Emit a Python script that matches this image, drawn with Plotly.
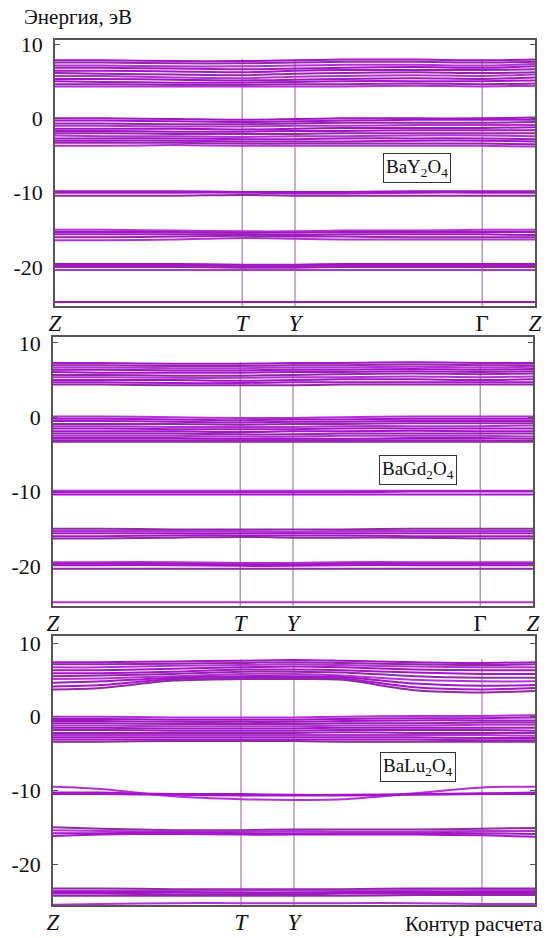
import plotly.graph_objects as go

W, H = 556, 938

# ---- k-path (fraction of path) and symmetry points ----
KX = [0.0, 0.1, 0.25, 0.39, 0.5, 0.6, 0.75, 0.89, 1.0]
SYM_X = [0.0, 0.39, 0.5, 0.89, 1.0]
SYM_LABELS_FULL = ['<i>Z</i>', '<i>T</i>', '<i>Y</i>', 'Γ', '<i>Z</i>']
SYM_LABELS_LAST = ['<i>Z</i>', '<i>T</i>', '<i>Y</i>']
Y_TICKS = [10, 0, -10, -20]
Y_TICK_TEXT = ['10', '0', '-10', '-20']
PANEL_NAMES = ['BaY<sub>2</sub>O<sub>4</sub>', 'BaGd<sub>2</sub>O<sub>4</sub>', 'BaLu<sub>2</sub>O<sub>4</sub>']
VLINE_TOP = [8.0, 7.4, 7.8]

# ---- BaY2O4 bands (eV) ----
P1_CB = [
    [7.8, 7.8, 7.7, 7.7, 7.8, 7.9, 7.9, 7.8, 7.9],
    [7.5, 7.5, 7.4, 7.4, 7.5, 7.6, 7.6, 7.5, 7.6],
    [7.1, 7.1, 7.0, 7.0, 7.1, 7.2, 7.2, 7.1, 7.3],
    [6.8, 6.8, 6.7, 6.6, 6.7, 6.8, 6.9, 6.8, 7.0],
    [6.4, 6.4, 6.3, 6.2, 6.4, 6.5, 6.5, 6.5, 6.6],
    [6.1, 6.0, 5.9, 5.8, 6.0, 6.1, 6.2, 6.1, 6.2],
    [5.7, 5.7, 5.5, 5.4, 5.6, 5.7, 5.8, 5.7, 5.9],
    [5.3, 5.3, 5.2, 5.1, 5.2, 5.3, 5.4, 5.3, 5.5],
    [5.0, 4.9, 4.8, 4.8, 4.9, 5.0, 5.0, 5.0, 5.1],
    [4.6, 4.6, 4.5, 4.5, 4.6, 4.6, 4.7, 4.6, 4.7],
    [4.3, 4.3, 4.3, 4.3, 4.3, 4.3, 4.4, 4.3, 4.4],
]
P1_VB = [
    [0.0, 0.0, -0.1, -0.2, -0.1, 0.0, 0.0, 0.0, 0.1],
    [-0.3, -0.3, -0.4, -0.5, -0.4, -0.3, -0.2, -0.2, -0.2],
    [-0.7, -0.7, -0.8, -0.8, -0.7, -0.6, -0.6, -0.6, -0.5],
    [-1.0, -1.0, -1.1, -1.1, -1.0, -1.0, -0.9, -0.9, -0.9],
    [-1.4, -1.4, -1.4, -1.5, -1.4, -1.3, -1.3, -1.3, -1.2],
    [-1.7, -1.7, -1.8, -1.8, -1.7, -1.7, -1.6, -1.6, -1.6],
    [-2.0, -2.0, -2.1, -2.1, -2.1, -2.0, -2.0, -2.0, -2.0],
    [-2.3, -2.4, -2.4, -2.5, -2.4, -2.4, -2.3, -2.3, -2.4],
    [-2.7, -2.7, -2.7, -2.8, -2.8, -2.7, -2.7, -2.7, -2.8],
    [-3.0, -3.0, -3.0, -3.1, -3.1, -3.1, -3.0, -3.0, -3.1],
    [-3.3, -3.3, -3.3, -3.4, -3.4, -3.4, -3.4, -3.4, -3.5],
    [-3.7, -3.7, -3.6, -3.7, -3.7, -3.7, -3.7, -3.7, -3.8],
]
P1_DEEP = [
    [-9.8, -9.8, -9.8, -9.9, -9.9, -9.9, -9.8, -9.8, -9.8],
    [-10.0, -10.0, -10.0, -10.0, -10.1, -10.1, -10.0, -10.0, -10.0],
    [-10.4, -10.4, -10.4, -10.3, -10.4, -10.4, -10.4, -10.4, -10.4],
    [-15.0, -15.0, -15.1, -15.2, -15.2, -15.1, -15.1, -15.0, -15.0],
    [-15.3, -15.3, -15.3, -15.4, -15.4, -15.3, -15.3, -15.3, -15.3],
    [-15.6, -15.6, -15.6, -15.6, -15.7, -15.6, -15.6, -15.6, -15.7],
    [-16.0, -16.0, -15.9, -15.8, -15.9, -15.9, -16.0, -16.0, -16.0],
    [-16.4, -16.4, -16.3, -16.1, -16.2, -16.3, -16.3, -16.3, -16.3],
    [-19.6, -19.6, -19.6, -19.7, -19.7, -19.6, -19.6, -19.6, -19.6],
    [-19.8, -19.8, -19.8, -19.9, -19.9, -19.8, -19.8, -19.8, -19.8],
    [-20.0, -20.0, -20.0, -20.1, -20.1, -20.0, -20.0, -20.0, -20.0],
    [-20.4, -20.4, -20.4, -20.4, -20.4, -20.4, -20.4, -20.4, -20.4],
    [-24.7, -24.7, -24.7, -24.7, -24.7, -24.7, -24.7, -24.7, -24.7],
]

# ---- BaGd2O4 bands (eV) ----
P2_CB = [
    [7.3, 7.3, 7.2, 7.2, 7.3, 7.3, 7.4, 7.3, 7.3],
    [7.0, 7.0, 6.9, 6.9, 7.0, 7.0, 7.1, 7.0, 7.0],
    [6.7, 6.7, 6.6, 6.6, 6.7, 6.7, 6.8, 6.7, 6.8],
    [6.4, 6.4, 6.3, 6.3, 6.4, 6.4, 6.5, 6.4, 6.5],
    [6.1, 6.0, 6.0, 6.0, 6.1, 6.1, 6.2, 6.1, 6.2],
    [5.7, 5.7, 5.6, 5.6, 5.7, 5.8, 5.9, 5.8, 5.9],
    [5.4, 5.4, 5.3, 5.3, 5.4, 5.4, 5.5, 5.4, 5.5],
    [5.0, 5.0, 5.0, 4.9, 5.0, 5.1, 5.1, 5.0, 5.1],
    [4.7, 4.7, 4.6, 4.6, 4.7, 4.7, 4.7, 4.7, 4.7],
    [4.4, 4.4, 4.3, 4.3, 4.3, 4.4, 4.4, 4.4, 4.4],
]
P2_VB = [
    [0.1, 0.1, 0.0, -0.1, -0.1, 0.0, 0.1, 0.1, 0.1],
    [-0.2, -0.2, -0.3, -0.4, -0.3, -0.3, -0.2, -0.2, -0.2],
    [-0.5, -0.5, -0.6, -0.7, -0.6, -0.6, -0.5, -0.5, -0.5],
    [-0.9, -0.9, -0.9, -1.0, -0.9, -0.9, -0.8, -0.8, -0.8],
    [-1.2, -1.2, -1.3, -1.3, -1.3, -1.2, -1.2, -1.2, -1.1],
    [-1.5, -1.5, -1.6, -1.6, -1.6, -1.5, -1.5, -1.5, -1.5],
    [-1.9, -1.9, -1.9, -2.0, -1.9, -1.9, -1.8, -1.9, -1.9],
    [-2.2, -2.2, -2.2, -2.3, -2.3, -2.2, -2.2, -2.2, -2.2],
    [-2.5, -2.5, -2.5, -2.6, -2.6, -2.5, -2.5, -2.5, -2.6],
    [-2.8, -2.8, -2.8, -2.9, -2.9, -2.9, -2.8, -2.8, -2.9],
    [-3.1, -3.1, -3.1, -3.1, -3.1, -3.1, -3.1, -3.1, -3.2],
    [-3.3, -3.3, -3.3, -3.3, -3.3, -3.3, -3.3, -3.3, -3.3],
]
P2_DEEP = [
    [-9.9, -9.9, -9.9, -9.9, -9.9, -9.9, -9.9, -9.9, -9.9],
    [-10.1, -10.1, -10.1, -10.1, -10.1, -10.1, -10.0, -10.0, -10.0],
    [-10.4, -10.4, -10.4, -10.4, -10.4, -10.4, -10.4, -10.4, -10.4],
    [-15.0, -15.0, -15.1, -15.1, -15.1, -15.1, -15.0, -15.0, -15.0],
    [-15.3, -15.3, -15.3, -15.3, -15.4, -15.3, -15.3, -15.3, -15.3],
    [-15.6, -15.6, -15.6, -15.6, -15.6, -15.6, -15.6, -15.6, -15.6],
    [-16.0, -16.0, -15.9, -15.9, -15.9, -15.9, -16.0, -16.0, -16.0],
    [-16.3, -16.3, -16.2, -16.1, -16.2, -16.2, -16.2, -16.3, -16.3],
    [-19.5, -19.5, -19.5, -19.6, -19.6, -19.5, -19.5, -19.5, -19.5],
    [-19.7, -19.7, -19.7, -19.8, -19.8, -19.7, -19.7, -19.7, -19.7],
    [-19.9, -19.9, -19.9, -20.0, -20.0, -19.9, -19.9, -19.9, -19.9],
    [-20.4, -20.4, -20.4, -20.4, -20.4, -20.4, -20.4, -20.4, -20.4],
    [-24.9, -24.9, -24.9, -24.9, -24.9, -24.9, -24.9, -24.9, -24.9],
]

# ---- BaLu2O4 bands (eV) ----
P3_CB = [
    [7.4, 7.4, 7.5, 7.6, 7.7, 7.6, 7.4, 7.3, 7.4],
    [7.1, 7.1, 7.2, 7.3, 7.4, 7.3, 7.1, 7.0, 7.1],
    [6.7, 6.7, 6.9, 7.0, 7.1, 7.0, 6.8, 6.7, 6.7],
    [6.3, 6.3, 6.5, 6.7, 6.8, 6.7, 6.4, 6.3, 6.3],
    [5.9, 5.9, 6.1, 6.4, 6.4, 6.3, 6.0, 5.8, 5.8],
    [5.5, 5.6, 5.8, 6.1, 6.1, 6.0, 5.5, 5.3, 5.3],
    [5.1, 5.2, 5.5, 5.8, 5.8, 5.6, 5.0, 4.8, 4.8],
    [4.6, 4.8, 5.3, 5.5, 5.5, 5.4, 4.5, 4.2, 4.3],
    [4.1, 4.3, 5.1, 5.3, 5.3, 5.2, 4.0, 3.7, 3.9],
    [3.7, 3.9, 4.9, 5.1, 5.1, 5.0, 3.6, 3.3, 3.5],
]
P3_VB = [
    [0.0, 0.0, -0.1, -0.1, -0.1, 0.0, 0.1, 0.1, 0.2],
    [-0.3, -0.3, -0.4, -0.4, -0.4, -0.3, -0.2, -0.2, -0.1],
    [-0.6, -0.6, -0.7, -0.7, -0.7, -0.6, -0.5, -0.5, -0.5],
    [-0.9, -0.9, -1.0, -1.0, -1.0, -0.9, -0.9, -0.8, -0.8],
    [-1.2, -1.2, -1.3, -1.3, -1.3, -1.2, -1.2, -1.1, -1.1],
    [-1.5, -1.5, -1.6, -1.6, -1.6, -1.5, -1.5, -1.5, -1.5],
    [-1.8, -1.8, -1.9, -1.9, -1.9, -1.8, -1.8, -1.8, -1.9],
    [-2.2, -2.2, -2.2, -2.2, -2.2, -2.1, -2.2, -2.2, -2.2],
    [-2.5, -2.5, -2.5, -2.5, -2.5, -2.5, -2.5, -2.5, -2.6],
    [-2.8, -2.8, -2.8, -2.8, -2.8, -2.8, -2.8, -2.9, -2.9],
    [-3.1, -3.1, -3.1, -3.1, -3.1, -3.1, -3.1, -3.2, -3.2],
    [-3.4, -3.4, -3.3, -3.3, -3.3, -3.4, -3.4, -3.4, -3.4],
]
P3_DEEP = [
    [-9.5, -9.8, -10.8, -11.2, -11.3, -11.2, -10.4, -9.6, -9.5],
    [-10.3, -10.3, -10.5, -10.5, -10.6, -10.6, -10.5, -10.4, -10.3],
    [-10.5, -10.5, -10.6, -10.7, -10.7, -10.7, -10.6, -10.5, -10.5],
    [-15.0, -15.2, -15.4, -15.4, -15.3, -15.3, -15.3, -15.2, -15.1],
    [-15.4, -15.5, -15.6, -15.6, -15.5, -15.6, -15.6, -15.5, -15.5],
    [-15.8, -15.8, -15.7, -15.8, -15.8, -15.8, -15.8, -15.8, -15.9],
    [-16.2, -16.0, -15.9, -16.0, -16.0, -16.0, -16.0, -16.1, -16.3],
    [-23.3, -23.3, -23.4, -23.4, -23.4, -23.4, -23.3, -23.3, -23.3],
    [-23.6, -23.6, -23.6, -23.6, -23.6, -23.6, -23.5, -23.5, -23.5],
    [-23.8, -23.8, -23.8, -23.9, -23.9, -23.8, -23.8, -23.8, -23.8],
    [-24.0, -24.0, -24.1, -24.1, -24.1, -24.0, -24.0, -24.0, -24.0],
    [-24.3, -24.3, -24.3, -24.3, -24.3, -24.3, -24.2, -24.2, -24.2],
    [-25.5, -25.4, -25.3, -25.3, -25.3, -25.3, -25.3, -25.4, -25.4],
]

PANEL_BANDS = [P1_CB + P1_VB + P1_DEEP, P2_CB + P2_VB + P2_DEEP, P3_CB + P3_VB + P3_DEEP]

# ---- layout geometry (pixels) ----
X_PIX = [(55, 535), (53, 533), (53, 535)]
Y_PIX = [(40, 306), (337, 606), (636, 905)]
Y_RANGES = [(-25.25, 10.54), (-25.4, 10.8), (-25.55, 10.95)]
BOX_CENTERS = [(417, 168), (418, 470), (418, 767)]

BAND_COLORS = ['#a812cf', '#8f2aa3', '#b52fd6', '#9e18bf']
VLINE_COLOR = '#9c6ea3'
AXIS_COLOR = '#555555'
FONT = '"Liberation Serif", "Times New Roman", serif'

fig = go.Figure()
layout = dict(
    width=W, height=H, margin=dict(l=0, r=0, t=0, b=0),
    paper_bgcolor='white', plot_bgcolor='white', showlegend=False,
    font=dict(family=FONT, color='#111', size=22),
)

for p in range(3):
    sfx = '' if p == 0 else str(p + 1)
    xa, ya = 'x' + sfx, 'y' + sfx
    # vertical symmetry lines (T, Y, Γ)
    for sx in SYM_X[1:4]:
        fig.add_trace(go.Scatter(x=[sx, sx], y=[-40, VLINE_TOP[p]], mode='lines',
                                 line=dict(color=VLINE_COLOR, width=1.1),
                                 xaxis=xa, yaxis=ya, hoverinfo='skip'))
    for i, band in enumerate(PANEL_BANDS[p]):
        fig.add_trace(go.Scatter(x=KX, y=band, mode='lines',
                                 line=dict(color=BAND_COLORS[i % len(BAND_COLORS)], width=2.0,
                                           shape='spline', smoothing=0.8),
                                 xaxis=xa, yaxis=ya, hoverinfo='skip'))
    x0, x1 = X_PIX[p]
    yt, yb = Y_PIX[p]
    if p < 2:
        tv, tt = SYM_X, SYM_LABELS_FULL
    else:
        tv, tt = SYM_X[:3], SYM_LABELS_LAST
    layout['xaxis' + sfx] = dict(
        domain=[x0 / W, x1 / W], range=[0, 1], anchor=ya,
        showgrid=False, zeroline=False, showline=True, mirror=True,
        linecolor=AXIS_COLOR, linewidth=1.5, ticks='',
        tickvals=tv, ticktext=tt, ticklabelstandoff=-4,
        tickfont=dict(size=23, family=FONT, color='#111'),
        automargin=False, fixedrange=True,
    )
    layout['yaxis' + sfx] = dict(
        domain=[1 - yb / H, 1 - yt / H], range=list(Y_RANGES[p]), anchor=xa,
        showgrid=False, zeroline=False, showline=True, mirror='ticks',
        linecolor=AXIS_COLOR, linewidth=1.5, ticks='inside', ticklen=5, tickcolor=AXIS_COLOR,
        tickvals=Y_TICKS, ticktext=Y_TICK_TEXT, ticklabelstandoff=6,
        tickfont=dict(size=22, family=FONT, color='#111'),
        automargin=False, fixedrange=True,
    )

annotations = []
for p in range(3):
    cx, cy = BOX_CENTERS[p]
    annotations.append(dict(
        x=cx / W, y=1 - cy / H, xref='paper', yref='paper', text=PANEL_NAMES[p],
        showarrow=False, font=dict(size=19, family=FONT, color='#111'),
        bordercolor='#333', borderwidth=1, borderpad=2, bgcolor='white',
        xanchor='center', yanchor='middle'))
annotations.append(dict(x=22 / W, y=1 - 17 / H, xref='paper', yref='paper',
                        text='Энергия, эВ', showarrow=False, xanchor='left', yanchor='middle',
                        font=dict(size=21, family=FONT, color='#111')))
annotations.append(dict(x=545 / W, y=1 - 924 / H, xref='paper', yref='paper',
                        text='Контур расчета', showarrow=False, xanchor='right', yanchor='middle',
                        font=dict(size=21, family=FONT, color='#111')))
layout['annotations'] = annotations

fig.update_layout(**layout)
fig.write_html('out.html', config={'displayModeBar': False},
               post_script="document.body.style.margin='0';document.body.style.overflow='hidden';")
